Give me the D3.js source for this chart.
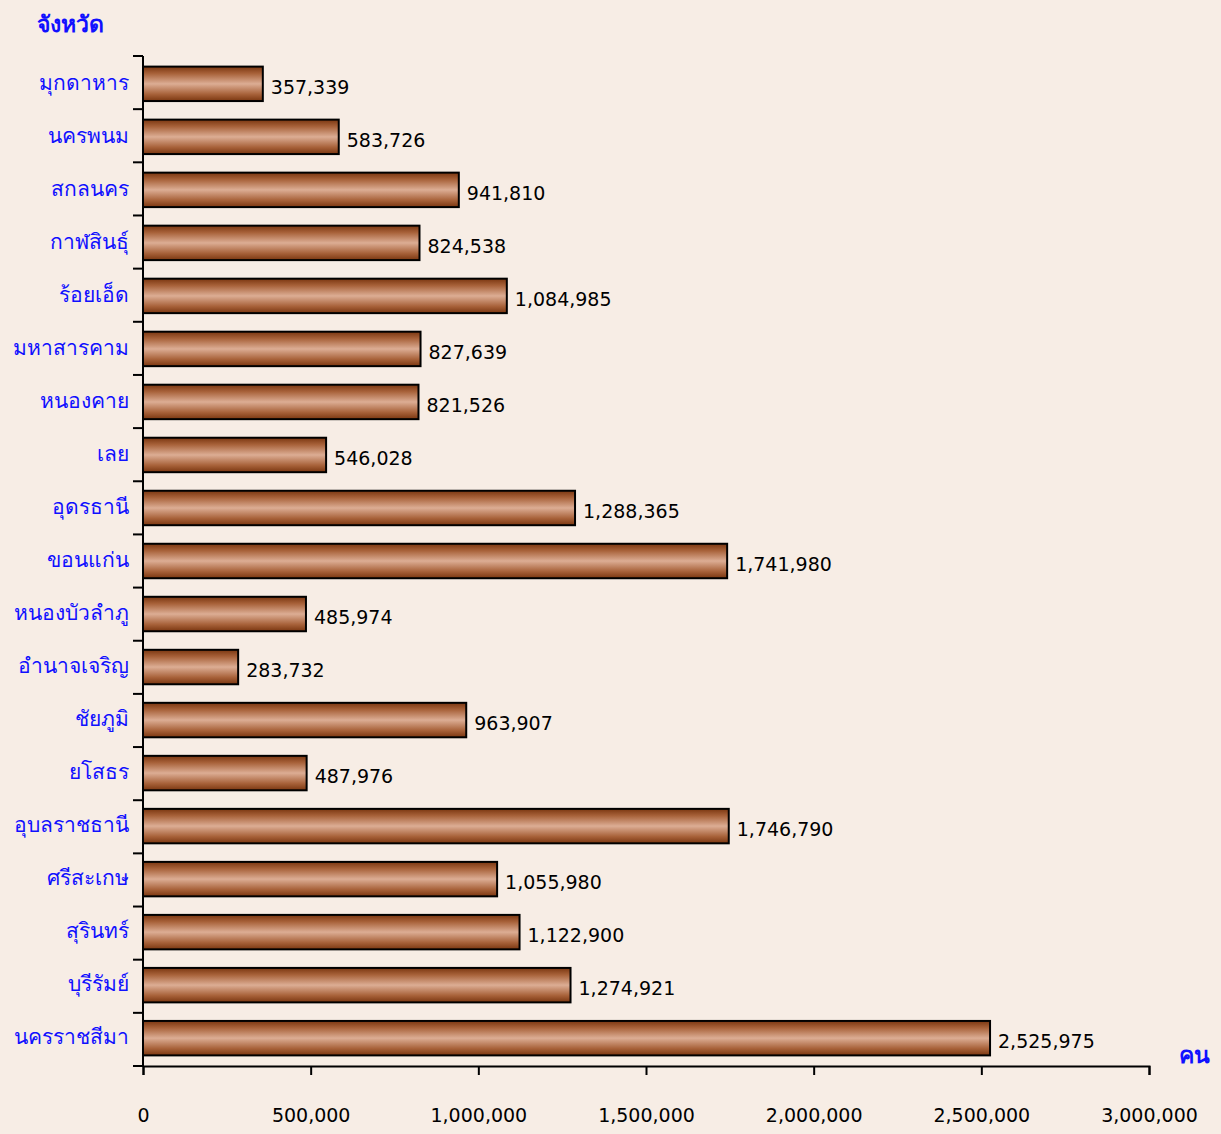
<!DOCTYPE html>
<html>
<head>
<meta charset="utf-8">
<script src="https://cdn.jsdelivr.net/npm/d3@7"></script>
<style>
  body { margin: 0; background: #f7ede5; }
  svg { display: block; }
</style>
</head>
<body>
<div id="chart"></div>
<script>
// provinces, top to bottom
var provinces = ["มุกดาหาร", "นครพนม", "สกลนคร", "กาฬสินธุ์", "ร้อยเอ็ด", "มหาสารคาม",
    "หนองคาย", "เลย", "อุดรธานี", "ขอนแก่น", "หนองบัวลำภู", "อำนาจเจริญ", "ชัยภูมิ",
    "ยโสธร", "อุบลราชธานี", "ศรีสะเกษ", "สุรินทร์", "บุรีรัมย์", "นครราชสีมา"];
var population = [357339, 583726, 941810, 824538, 1084985, 827639,
    821526, 546028, 1288365, 1741980, 485974, 283732, 963907,
    487976, 1746790, 1055980, 1122900, 1274921, 2525975];
var xTicks = [0, 500000, 1000000, 1500000, 2000000, 2500000, 3000000];

(function() {
    var width = 1221, height = 1134;
    var plotLeft = 143, plotRight = 1149, plotTop = 56, plotBottom = 1066;
    var format = d3.format(",d");

    var svg = d3.select("#chart")
        .append("svg")
        .attr("width", width)
        .attr("height", height);

    svg.append("rect").attr("width", width).attr("height", height).attr("fill", "#f7ede5");

    var grad = svg.append("defs").append("linearGradient")
        .attr("id", "barGrad")
        .attr("x1", 0).attr("y1", 0).attr("x2", 0).attr("y2", 1);
    grad.append("stop").attr("offset", "0%").attr("stop-color", "#7a3610");
    grad.append("stop").attr("offset", "20%").attr("stop-color", "#a8623a");
    grad.append("stop").attr("offset", "50%").attr("stop-color", "#dcad94");
    grad.append("stop").attr("offset", "80%").attr("stop-color", "#a8623a");
    grad.append("stop").attr("offset", "100%").attr("stop-color", "#7a3610");

    var x = d3.scaleLinear().domain([0, 3000000]).range([plotLeft, plotRight]);
    var y = d3.scaleBand().domain(provinces).range([plotTop, plotBottom])
        .paddingInner(0.35).paddingOuter(0.2);

    // bars
    svg.selectAll(".bar")
        .data(population)
        .enter()
        .append("rect")
        .attr("class", "bar")
        .attr("x", x(0))
        .attr("y", function(d, i) { return y(provinces[i]); })
        .attr("width", function(d) { return x(d) - x(0); })
        .attr("height", y.bandwidth())
        .attr("fill", "url(#barGrad)")
        .attr("stroke", "#000")
        .attr("stroke-width", 2);

    // value labels
    svg.selectAll(".val")
        .data(population)
        .enter()
        .append("text")
        .attr("class", "val")
        .attr("x", function(d) { return x(d) + 8; })
        .attr("y", function(d, i) { return y(provinces[i]) + y.bandwidth() / 2 + 10; })
        .style("font-family", "'DejaVu Sans', sans-serif")
        .style("font-size", "19px")
        .attr("fill", "#000")
        .text(function(d) { return format(d); });

    // left axis line and category ticks
    var step = (plotBottom - plotTop) / provinces.length;
    svg.append("line")
        .attr("x1", plotLeft).attr("x2", plotLeft)
        .attr("y1", plotTop).attr("y2", plotBottom)
        .attr("stroke", "#000").attr("stroke-width", 2);
    svg.selectAll(".ytick")
        .data(d3.range(provinces.length + 1))
        .enter()
        .append("line")
        .attr("x1", plotLeft - 10).attr("x2", plotLeft)
        .attr("y1", function(i) { return plotTop + i * step; })
        .attr("y2", function(i) { return plotTop + i * step; })
        .attr("stroke", "#000").attr("stroke-width", 2);

    svg.selectAll(".cat")
        .data(provinces)
        .enter()
        .append("text")
        .attr("class", "cat")
        .attr("x", plotLeft - 14)
        .attr("y", function(d) { return y(d) + y.bandwidth() / 2 + 6; })
        .attr("text-anchor", "end")
        .style("font-family", "'Noto Sans', 'DejaVu Sans', sans-serif")
        .style("font-size", "21px")
        .style("font-weight", "500")
        .attr("fill", "#1010ff")
        .text(function(d) { return d; });

    // bottom axis
    var xAxis = svg.append("g")
        .attr("transform", "translate(0," + plotBottom + ")")
        .call(d3.axisBottom(x).tickValues(xTicks).tickFormat(format).tickSize(9).tickPadding(34));
    xAxis.select(".domain").attr("stroke", "#000").attr("stroke-width", 2);
    xAxis.selectAll(".tick line").attr("stroke", "#000").attr("stroke-width", 2);
    xAxis.selectAll(".tick text")
        .style("font-family", "'DejaVu Sans', sans-serif")
        .style("font-size", "19px")
        .attr("fill", "#000");

    // axis titles
    svg.append("text")
        .attr("x", 37).attr("y", 32)
        .style("font-family", "'Noto Sans', 'DejaVu Sans', sans-serif")
        .style("font-size", "23px")
        .style("font-weight", "bold")
        .attr("fill", "#1010ff")
        .text("จังหวัด");
    svg.append("text")
        .attr("x", 1210).attr("y", 1063)
        .attr("text-anchor", "end")
        .style("font-family", "'Noto Sans', 'DejaVu Sans', sans-serif")
        .style("font-size", "23px")
        .style("font-weight", "bold")
        .attr("fill", "#1010ff")
        .text("คน");
})();
</script>
</body>
</html>
